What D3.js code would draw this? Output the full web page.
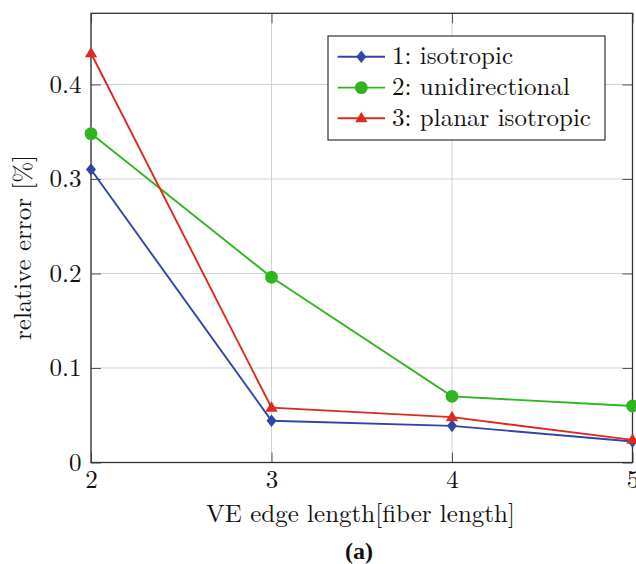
<!DOCTYPE html>
<html><head><meta charset="utf-8">
<script src="https://cdn.jsdelivr.net/npm/d3@7"></script>
<style>body{margin:0;background:#fff}svg{display:block}</style>
</head><body><svg id="c" width="636" height="564"></svg>
<script>
const xValues = [2, 3, 4, 5];
const isotropic = [0.310, 0.0442, 0.0388, 0.0222];
const unidirectional = [0.348, 0.196, 0.0700, 0.0598];
const planarIsotropic = [0.433, 0.0580, 0.0480, 0.0240];
const seriesNames = ["1: isotropic", "2: unidirectional", "3: planar isotropic"];
const seriesColors = ["#3045a6", "#2fb61e", "#dc2a1f"];
const seriesMarkers = ["diamond", "circle", "triangle"];
const xTicks = [2, 3, 4, 5];
const yTicks = [0, 0.1, 0.2, 0.3, 0.4];

const FONT = '"Latin Modern Roman","CMU Serif","Liberation Serif",serif';
const FS = "25px";
const svg = d3.select("#c");
const L = 91, R = 632.5, T = 13.3, B = 462.5;
const x = d3.scaleLinear().domain([2, 5]).range([L, R]);
const y = d3.scaleLinear().domain([0, 0.4753]).range([B, T]);

// grid
const g = svg.append("g");
g.selectAll(".gx").data(xTicks).join("line")
  .attr("x1", d => x(d)).attr("x2", d => x(d)).attr("y1", T).attr("y2", B)
  .attr("stroke", "#d2d2d2").attr("stroke-width", 1);
g.selectAll(".gy").data(yTicks).join("line")
  .attr("y1", d => y(d)).attr("y2", d => y(d)).attr("x1", L).attr("x2", R)
  .attr("stroke", "#d2d2d2").attr("stroke-width", 1);

// axes with inside ticks
const tl = 10;
const xb = svg.append("g").attr("transform", `translate(0,${B})`)
  .call(d3.axisBottom(x).tickValues(xTicks).tickSize(-tl).tickFormat(d3.format("d")));
const xt = svg.append("g").attr("transform", `translate(0,${T})`)
  .call(d3.axisTop(x).tickValues(xTicks).tickSize(-tl).tickFormat(""));
const yl = svg.append("g").attr("transform", `translate(${L},0)`)
  .call(d3.axisLeft(y).tickValues(yTicks).tickSize(-tl).tickPadding(9.5).tickFormat(d => d === 0 ? "0" : d3.format(".1f")(d)));
const yr = svg.append("g").attr("transform", `translate(${R},0)`)
  .call(d3.axisRight(y).tickValues(yTicks).tickSize(-tl).tickFormat(""));
[xb, xt, yl, yr].forEach(a => {
  a.select(".domain").remove();
  a.selectAll(".tick line").attr("stroke", "#555").attr("stroke-width", 1);
  a.selectAll("text").style("font-family", FONT).style("font-size", FS).attr("fill", "#111");
});
xb.selectAll("text").attr("y", 25.2).attr("dy", 0);
yl.selectAll("text").attr("dy", "0.32em");
// frame
svg.append("rect").attr("x", L).attr("y", T).attr("width", R - L).attr("height", B - T)
  .attr("fill", "none").attr("stroke", "#333").attr("stroke-width", 1.3);

// series
const data = [isotropic, unidirectional, planarIsotropic];
const line = d3.line().x((d, i) => x(xValues[i])).y(d => y(d));
function marker(sel, type, color) {
  if (type === "diamond") sel.append("path").attr("d", "M0,-6.3L5,0L0,6.3L-5,0Z").attr("fill", color);
  else if (type === "circle") sel.append("circle").attr("r", 6.4).attr("fill", color);
  else sel.append("path").attr("d", "M0,-6.4L6.2,4L-6.2,4Z").attr("fill", color);
}
const plot = svg.append("g");
data.forEach((vals, si) => {
  plot.append("path").datum(vals).attr("d", line).attr("fill", "none")
    .attr("stroke", seriesColors[si]).attr("stroke-width", 1.9);
});
data.forEach((vals, si) => {
  vals.forEach((v, i) => {
    const m = plot.append("g").attr("transform", `translate(${x(xValues[i])},${y(v)})`);
    marker(m, seriesMarkers[si], seriesColors[si]);
  });
});

// legend
const lg = svg.append("g");
lg.append("rect").attr("x", 328).attr("y", 36).attr("width", 277).attr("height", 104)
  .attr("fill", "#fff").attr("stroke", "#222").attr("stroke-width", 1.1);
const rowY = [56.8, 87.6, 118.3];
seriesNames.forEach((n, i) => {
  lg.append("line").attr("x1", 337.7).attr("x2", 385).attr("y1", rowY[i]).attr("y2", rowY[i])
    .attr("stroke", seriesColors[i]).attr("stroke-width", 1.9);
  const m = lg.append("g").attr("transform", `translate(361.3,${rowY[i]})`);
  marker(m, seriesMarkers[i], seriesColors[i]);
  lg.append("text").attr("x", 392).attr("y", rowY[i]).attr("dy", "0.3em")
    .style("font-family", FONT).style("font-size", FS).attr("fill", "#111").text(n);
});

// axis titles
svg.append("text").attr("x", 360.5).attr("y", 521.7).attr("text-anchor", "middle")
  .style("font-family", FONT).style("font-size", FS).attr("fill", "#111").text("VE edge length[fiber length]");
svg.append("text").attr("transform", "translate(30.5,247.5) rotate(-90)").attr("text-anchor", "middle")
  .style("font-family", FONT).style("font-size", FS).attr("fill", "#111").text("relative error [%]");
svg.append("text").attr("x", 359).attr("y", 559).attr("text-anchor", "middle")
  .style("font-family", '"Liberation Serif","Times New Roman",serif').style("font-size", "24px").style("font-weight", "bold").attr("fill", "#111").text("(a)");
</script></body></html>
